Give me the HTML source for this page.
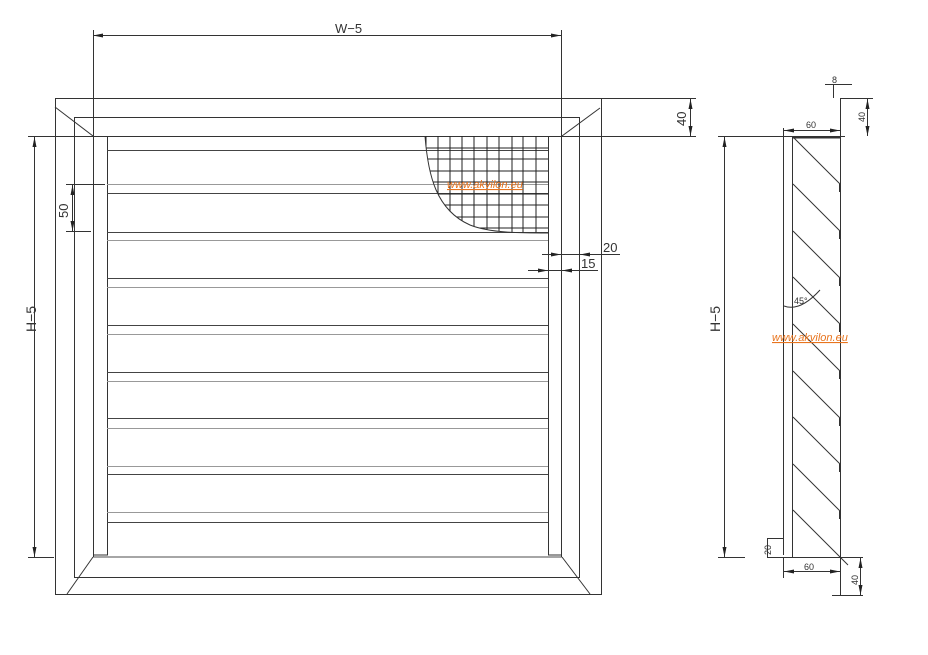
<!DOCTYPE html>
<html><head><meta charset="utf-8"><style>
html,body{margin:0;padding:0;background:#fff;}
svg{display:block;}
text{font-family:"Liberation Sans",sans-serif;fill:#333;}
</style></head><body>
<svg width="928" height="655" viewBox="0 0 928 655" xmlns="http://www.w3.org/2000/svg">
<defs>
<marker id="a" markerWidth="10" markerHeight="6" refX="10" refY="3" orient="auto-start-reverse" markerUnits="userSpaceOnUse"><path d="M0,1 L10,3 L0,5 z" fill="#222"/></marker>
<clipPath id="mc"><path d="M425,136 C428,175 436,210 470,225 C490,233 520,233 548,233 L548,136 z"/></clipPath>
</defs>
<g stroke="#333" stroke-width="1" fill="none">
<!-- front frame -->
<rect x="55.5" y="98.5" width="546" height="496"/>
<rect x="74.5" y="117.5" width="505" height="460"/>
<line x1="55" y1="107" x2="93" y2="136"/>
<line x1="600" y1="108" x2="562" y2="136"/>
<line x1="67" y1="594" x2="93" y2="557"/>
<line x1="562" y1="557" x2="590" y2="594"/>
<line x1="93" y1="557" x2="562" y2="557" stroke="#888" stroke-width="1.5"/>
<!-- rails -->
<polyline points="93.5,136 93.5,555 107.5,555 107.5,136"/>
<polyline points="548.5,136 548.5,555 561.5,555"/>
<line x1="561.5" y1="30" x2="561.5" y2="557"/>
<line x1="93.5" y1="30" x2="93.5" y2="557"/>
<!-- top/dim lines -->
<line x1="28" y1="136.5" x2="696" y2="136.5"/>
<line x1="602" y1="98.5" x2="696" y2="98.5"/>
<line x1="93" y1="35.5" x2="561" y2="35.5" marker-start="url(#a)" marker-end="url(#a)"/>
<line x1="690.5" y1="99" x2="690.5" y2="136" marker-start="url(#a)" marker-end="url(#a)"/>
<!-- slats -->
<g stroke="#444">
<line x1="107" y1="150.5" x2="548" y2="150.5"/>
<line x1="107" y1="184.5" x2="548" y2="184.5" stroke="#999"/><line x1="107" y1="193.5" x2="548" y2="193.5"/>
<line x1="107" y1="232.5" x2="548" y2="232.5"/><line x1="107" y1="240.5" x2="548" y2="240.5" stroke="#999"/>
<line x1="107" y1="278.5" x2="548" y2="278.5"/><line x1="107" y1="287.5" x2="548" y2="287.5" stroke="#999"/>
<line x1="107" y1="325.5" x2="548" y2="325.5"/><line x1="107" y1="334.5" x2="548" y2="334.5" stroke="#999"/>
<line x1="107" y1="372.5" x2="548" y2="372.5"/><line x1="107" y1="381.5" x2="548" y2="381.5" stroke="#999"/>
<line x1="107" y1="418.5" x2="548" y2="418.5"/><line x1="107" y1="428.5" x2="548" y2="428.5" stroke="#999"/>
<line x1="107" y1="466.5" x2="548" y2="466.5" stroke="#999"/><line x1="107" y1="474.5" x2="548" y2="474.5"/>
<line x1="107" y1="512.5" x2="548" y2="512.5" stroke="#999"/><line x1="107" y1="522.5" x2="548" y2="522.5"/>
</g>
<!-- 50 dim -->
<line x1="66" y1="184.5" x2="105" y2="184.5"/>
<line x1="66" y1="231.5" x2="91" y2="231.5"/>
<line x1="72.5" y1="185" x2="72.5" y2="231" marker-start="url(#a)" marker-end="url(#a)"/>
<!-- H-5 -->
<line x1="28" y1="557.5" x2="54" y2="557.5"/>
<line x1="34.5" y1="137" x2="34.5" y2="557" marker-start="url(#a)" marker-end="url(#a)"/>
<!-- mesh -->
<g clip-path="url(#mc)" stroke="#222">
<line x1="426" y1="136" x2="426" y2="234"/><line x1="438" y1="136" x2="438" y2="234"/><line x1="450" y1="136" x2="450" y2="234"/><line x1="462" y1="136" x2="462" y2="234"/><line x1="474" y1="136" x2="474" y2="234"/><line x1="487" y1="136" x2="487" y2="234"/><line x1="499" y1="136" x2="499" y2="234"/><line x1="512" y1="136" x2="512" y2="234"/><line x1="523" y1="136" x2="523" y2="234"/><line x1="536" y1="136" x2="536" y2="234"/>
<line x1="420" y1="148" x2="548" y2="148"/><line x1="420" y1="159" x2="548" y2="159"/><line x1="420" y1="171" x2="548" y2="171"/><line x1="420" y1="182" x2="548" y2="182"/><line x1="420" y1="194" x2="548" y2="194"/><line x1="420" y1="205" x2="548" y2="205"/><line x1="420" y1="217" x2="548" y2="217"/><line x1="420" y1="228" x2="548" y2="228"/>
</g>
<path d="M425,136 C428,175 436,210 470,225 C490,233 520,233 548,233"/>
<!-- 20 / 15 -->
<line x1="542" y1="254.5" x2="620" y2="254.5"/>
<line x1="542" y1="254.5" x2="561" y2="254.5" marker-end="url(#a)"/>
<line x1="590" y1="254.5" x2="580" y2="254.5" marker-end="url(#a)"/>
<line x1="528" y1="270.5" x2="598" y2="270.5"/>
<line x1="528" y1="270.5" x2="548" y2="270.5" marker-end="url(#a)"/>
<line x1="575" y1="270.5" x2="562" y2="270.5" marker-end="url(#a)"/>
<!-- side view -->
<line x1="783.5" y1="128" x2="783.5" y2="555"/>
<line x1="792.5" y1="136" x2="792.5" y2="557"/>
<line x1="840.5" y1="98" x2="840.5" y2="596"/>
<line x1="718" y1="136.5" x2="845" y2="136.5"/>
<line x1="792" y1="137.5" x2="840" y2="137.5" stroke-width="2"/>
<line x1="784" y1="130.5" x2="840" y2="130.5" marker-start="url(#a)" marker-end="url(#a)"/>
<line x1="840" y1="98.5" x2="873" y2="98.5"/>
<line x1="867.5" y1="99" x2="867.5" y2="136" marker-start="url(#a)" marker-end="url(#a)"/>
<polyline points="833.5,98 833.5,84 833.5,84"/>
<line x1="825" y1="84.5" x2="852" y2="84.5"/>
<line x1="724.5" y1="137" x2="724.5" y2="557" marker-start="url(#a)" marker-end="url(#a)"/>
<line x1="718" y1="557.5" x2="745" y2="557.5"/>
<line x1="767" y1="557.5" x2="863" y2="557.5"/>
<polyline points="767,538.5 783,538.5"/>
<line x1="767.5" y1="538" x2="767.5" y2="557"/>
<line x1="784" y1="571.5" x2="840" y2="571.5" marker-start="url(#a)" marker-end="url(#a)"/>
<line x1="783.5" y1="557" x2="783.5" y2="578"/>
<line x1="832" y1="595.5" x2="863" y2="595.5"/>
<line x1="860.5" y1="558" x2="860.5" y2="595" marker-start="url(#a)" marker-end="url(#a)"/>
<g stroke="#333">
<line x1="793" y1="137" x2="840" y2="184"/><line x1="840" y1="184" x2="840" y2="192" stroke-width="2"/>
<line x1="793" y1="184" x2="840" y2="231"/><line x1="840" y1="231" x2="840" y2="239" stroke-width="2"/>
<line x1="793" y1="231" x2="840" y2="278"/><line x1="840" y1="278" x2="840" y2="286" stroke-width="2"/>
<line x1="793" y1="277" x2="840" y2="324"/><line x1="840" y1="324" x2="840" y2="332" stroke-width="2"/>
<line x1="793" y1="324" x2="840" y2="371"/><line x1="840" y1="371" x2="840" y2="379" stroke-width="2"/>
<line x1="793" y1="371" x2="840" y2="418"/><line x1="840" y1="418" x2="840" y2="426" stroke-width="2"/>
<line x1="793" y1="417" x2="840" y2="464"/><line x1="840" y1="464" x2="840" y2="472" stroke-width="2"/>
<line x1="793" y1="464" x2="840" y2="511"/><line x1="840" y1="511" x2="840" y2="519" stroke-width="2"/>
<line x1="793" y1="510" x2="848" y2="565"/>
</g>
<path d="M784,306 Q800,312 820,290"/>
</g>
<!-- texts -->
<text x="335" y="33" font-size="13">W−5</text>
<text x="0" y="0" font-size="13" transform="translate(686,126) rotate(-90)">40</text>
<text x="0" y="0" font-size="13" transform="translate(68,218) rotate(-90)">50</text>
<text x="0" y="0" font-size="14" transform="translate(36,332) rotate(-90)">H−5</text>
<text x="603" y="252" font-size="13">20</text>
<text x="581" y="268" font-size="13">15</text>
<text x="447" y="188" font-size="11" font-style="italic" text-decoration="underline" style="fill:#e8741e">www.akvilon.eu</text>
<text x="772" y="341" font-size="11" font-style="italic" text-decoration="underline" style="fill:#e8741e">www.akvilon.eu</text>
<text x="0" y="0" font-size="14" transform="translate(720,332) rotate(-90)">H−5</text>
<text x="806" y="128" font-size="9">60</text>
<text x="832" y="83" font-size="9">8</text>
<text x="0" y="0" font-size="9" transform="translate(865,122) rotate(-90)">40</text>
<text x="794" y="304" font-size="9">45°</text>
<text x="0" y="0" font-size="9" transform="translate(771,555) rotate(-90)">20</text>
<text x="804" y="570" font-size="9">60</text>
<text x="0" y="0" font-size="9" transform="translate(858,585) rotate(-90)">40</text>
</svg>
</body></html>
